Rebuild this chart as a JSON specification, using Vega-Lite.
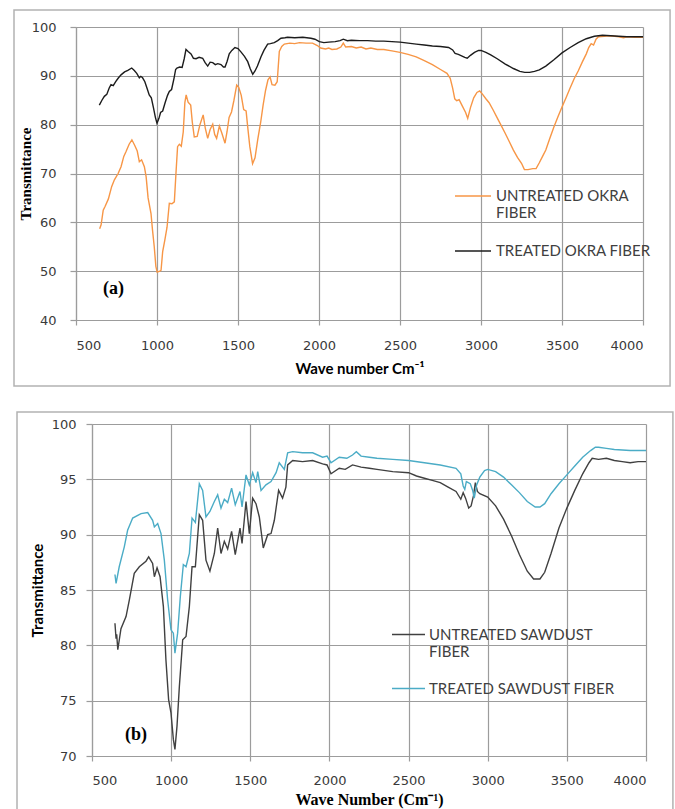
{
  "$schema": "https://vega.github.io/schema/vega-lite/v6.json",
  "padding": {"left": 13, "top": 9, "right": 0, "bottom": 0},
  "background": "white",
  "config": {
    "view": {"stroke": null},
    "axis": {
      "grid": true,
      "gridColor": "#9c9c9c",
      "gridWidth": 1.2,
      "domainColor": "#9c9c9c",
      "domainWidth": 1.2,
      "tickColor": "#9c9c9c",
      "tickWidth": 1.2,
      "labelColor": "#3a3a3a",
      "labelFont": "DejaVu Sans",
      "labelFontSize": 13,
      "format": "d",
      "titleColor": "#000000"
    },
    "legend": {
      "labelFont": "Lato",
      "labelFontSize": 15,
      "labelColor": "#404040",
      "labelLimit": 400,
      "symbolStrokeWidth": 1.6,
      "padding": 0
    }
  },
  "datasets": {
    "okra": [
      {"fiber": "untreated", "wn": 646, "T": 58.7}, {"fiber": "untreated", "wn": 655, "T": 59.5}, {"fiber": "untreated", "wn": 668, "T": 62.5},
      {"fiber": "untreated", "wn": 680, "T": 63.3}, {"fiber": "untreated", "wn": 700, "T": 64.8}, {"fiber": "untreated", "wn": 720, "T": 67.3},
      {"fiber": "untreated", "wn": 737, "T": 68.7}, {"fiber": "untreated", "wn": 760, "T": 70}, {"fiber": "untreated", "wn": 778, "T": 71.4},
      {"fiber": "untreated", "wn": 795, "T": 73.5}, {"fiber": "untreated", "wn": 809, "T": 74.5}, {"fiber": "untreated", "wn": 828, "T": 76},
      {"fiber": "untreated", "wn": 845, "T": 76.9}, {"fiber": "untreated", "wn": 862, "T": 75.8}, {"fiber": "untreated", "wn": 878, "T": 74.6},
      {"fiber": "untreated", "wn": 891, "T": 72.4}, {"fiber": "untreated", "wn": 905, "T": 72.8}, {"fiber": "untreated", "wn": 922, "T": 71.4},
      {"fiber": "untreated", "wn": 933, "T": 69.3}, {"fiber": "untreated", "wn": 945, "T": 65}, {"fiber": "untreated", "wn": 963, "T": 61.8},
      {"fiber": "untreated", "wn": 972, "T": 58.5}, {"fiber": "untreated", "wn": 983, "T": 55}, {"fiber": "untreated", "wn": 993, "T": 51},
      {"fiber": "untreated", "wn": 1001, "T": 49.8}, {"fiber": "untreated", "wn": 1018, "T": 50}, {"fiber": "untreated", "wn": 1025, "T": 50.2},
      {"fiber": "untreated", "wn": 1035, "T": 54}, {"fiber": "untreated", "wn": 1048, "T": 56.3}, {"fiber": "untreated", "wn": 1062, "T": 59},
      {"fiber": "untreated", "wn": 1076, "T": 63.9}, {"fiber": "untreated", "wn": 1092, "T": 63.8}, {"fiber": "untreated", "wn": 1107, "T": 64.2},
      {"fiber": "untreated", "wn": 1117, "T": 70}, {"fiber": "untreated", "wn": 1127, "T": 75.5}, {"fiber": "untreated", "wn": 1138, "T": 76},
      {"fiber": "untreated", "wn": 1150, "T": 75.6}, {"fiber": "untreated", "wn": 1162, "T": 78.5}, {"fiber": "untreated", "wn": 1172, "T": 84.5},
      {"fiber": "untreated", "wn": 1180, "T": 86.1}, {"fiber": "untreated", "wn": 1192, "T": 84.6}, {"fiber": "untreated", "wn": 1208, "T": 84},
      {"fiber": "untreated", "wn": 1218, "T": 80.5}, {"fiber": "untreated", "wn": 1230, "T": 77.5}, {"fiber": "untreated", "wn": 1248, "T": 77.6},
      {"fiber": "untreated", "wn": 1265, "T": 80}, {"fiber": "untreated", "wn": 1285, "T": 82}, {"fiber": "untreated", "wn": 1298, "T": 79.3},
      {"fiber": "untreated", "wn": 1313, "T": 77.2}, {"fiber": "untreated", "wn": 1328, "T": 79}, {"fiber": "untreated", "wn": 1344, "T": 80.1},
      {"fiber": "untreated", "wn": 1356, "T": 78}, {"fiber": "untreated", "wn": 1368, "T": 77.2}, {"fiber": "untreated", "wn": 1385, "T": 79.7},
      {"fiber": "untreated", "wn": 1400, "T": 78.3}, {"fiber": "untreated", "wn": 1420, "T": 76.2}, {"fiber": "untreated", "wn": 1432, "T": 78.5},
      {"fiber": "untreated", "wn": 1445, "T": 81.5}, {"fiber": "untreated", "wn": 1460, "T": 82.6}, {"fiber": "untreated", "wn": 1475, "T": 85},
      {"fiber": "untreated", "wn": 1492, "T": 88.1}, {"fiber": "untreated", "wn": 1505, "T": 87.6}, {"fiber": "untreated", "wn": 1520, "T": 86},
      {"fiber": "untreated", "wn": 1535, "T": 83.1}, {"fiber": "untreated", "wn": 1550, "T": 82.8}, {"fiber": "untreated", "wn": 1560, "T": 79.5},
      {"fiber": "untreated", "wn": 1573, "T": 75.5}, {"fiber": "untreated", "wn": 1590, "T": 72}, {"fiber": "untreated", "wn": 1605, "T": 73.2},
      {"fiber": "untreated", "wn": 1622, "T": 77}, {"fiber": "untreated", "wn": 1640, "T": 80.5}, {"fiber": "untreated", "wn": 1655, "T": 84},
      {"fiber": "untreated", "wn": 1670, "T": 87}, {"fiber": "untreated", "wn": 1685, "T": 89.2}, {"fiber": "untreated", "wn": 1698, "T": 89.8},
      {"fiber": "untreated", "wn": 1710, "T": 88.2}, {"fiber": "untreated", "wn": 1728, "T": 88.1}, {"fiber": "untreated", "wn": 1742, "T": 88.8},
      {"fiber": "untreated", "wn": 1755, "T": 95}, {"fiber": "untreated", "wn": 1770, "T": 96}, {"fiber": "untreated", "wn": 1786, "T": 96.5},
      {"fiber": "untreated", "wn": 1820, "T": 96.7}, {"fiber": "untreated", "wn": 1850, "T": 96.6}, {"fiber": "untreated", "wn": 1880, "T": 96.8},
      {"fiber": "untreated", "wn": 1920, "T": 96.7}, {"fiber": "untreated", "wn": 1960, "T": 96.7}, {"fiber": "untreated", "wn": 1990, "T": 96.2},
      {"fiber": "untreated", "wn": 2010, "T": 95.7}, {"fiber": "untreated", "wn": 2040, "T": 95.5}, {"fiber": "untreated", "wn": 2060, "T": 95.7},
      {"fiber": "untreated", "wn": 2080, "T": 95.4}, {"fiber": "untreated", "wn": 2110, "T": 95.5}, {"fiber": "untreated", "wn": 2135, "T": 95.9},
      {"fiber": "untreated", "wn": 2150, "T": 96.7}, {"fiber": "untreated", "wn": 2165, "T": 95.9}, {"fiber": "untreated", "wn": 2200, "T": 96},
      {"fiber": "untreated", "wn": 2230, "T": 95.7}, {"fiber": "untreated", "wn": 2260, "T": 95.9}, {"fiber": "untreated", "wn": 2290, "T": 95.5},
      {"fiber": "untreated", "wn": 2320, "T": 95.7}, {"fiber": "untreated", "wn": 2360, "T": 95.4}, {"fiber": "untreated", "wn": 2400, "T": 95.4},
      {"fiber": "untreated", "wn": 2450, "T": 95.1}, {"fiber": "untreated", "wn": 2500, "T": 94.8}, {"fiber": "untreated", "wn": 2550, "T": 94.4},
      {"fiber": "untreated", "wn": 2600, "T": 93.9}, {"fiber": "untreated", "wn": 2650, "T": 93.1}, {"fiber": "untreated", "wn": 2700, "T": 92.3},
      {"fiber": "untreated", "wn": 2750, "T": 91.3}, {"fiber": "untreated", "wn": 2790, "T": 90.5}, {"fiber": "untreated", "wn": 2810, "T": 89.5},
      {"fiber": "untreated", "wn": 2825, "T": 87.5}, {"fiber": "untreated", "wn": 2838, "T": 85.3}, {"fiber": "untreated", "wn": 2850, "T": 84.9},
      {"fiber": "untreated", "wn": 2865, "T": 85.1}, {"fiber": "untreated", "wn": 2885, "T": 83.8}, {"fiber": "untreated", "wn": 2905, "T": 82.5},
      {"fiber": "untreated", "wn": 2918, "T": 81.3}, {"fiber": "untreated", "wn": 2935, "T": 83.5}, {"fiber": "untreated", "wn": 2955, "T": 85.5},
      {"fiber": "untreated", "wn": 2975, "T": 86.6}, {"fiber": "untreated", "wn": 2992, "T": 86.9}, {"fiber": "untreated", "wn": 3010, "T": 86.2},
      {"fiber": "untreated", "wn": 3030, "T": 85.3}, {"fiber": "untreated", "wn": 3050, "T": 84.5}, {"fiber": "untreated", "wn": 3075, "T": 83},
      {"fiber": "untreated", "wn": 3100, "T": 81.4}, {"fiber": "untreated", "wn": 3125, "T": 79.8}, {"fiber": "untreated", "wn": 3150, "T": 78.2},
      {"fiber": "untreated", "wn": 3175, "T": 76.5}, {"fiber": "untreated", "wn": 3200, "T": 74.8}, {"fiber": "untreated", "wn": 3225, "T": 73.3},
      {"fiber": "untreated", "wn": 3250, "T": 72.1}, {"fiber": "untreated", "wn": 3268, "T": 70.8}, {"fiber": "untreated", "wn": 3290, "T": 70.8},
      {"fiber": "untreated", "wn": 3320, "T": 71}, {"fiber": "untreated", "wn": 3340, "T": 71}, {"fiber": "untreated", "wn": 3360, "T": 72.2},
      {"fiber": "untreated", "wn": 3380, "T": 73.5}, {"fiber": "untreated", "wn": 3400, "T": 74.8}, {"fiber": "untreated", "wn": 3425, "T": 77.2},
      {"fiber": "untreated", "wn": 3450, "T": 79.5}, {"fiber": "untreated", "wn": 3475, "T": 81.6}, {"fiber": "untreated", "wn": 3500, "T": 83.6},
      {"fiber": "untreated", "wn": 3525, "T": 85.5}, {"fiber": "untreated", "wn": 3550, "T": 87.5}, {"fiber": "untreated", "wn": 3575, "T": 89.4},
      {"fiber": "untreated", "wn": 3600, "T": 91}, {"fiber": "untreated", "wn": 3625, "T": 92.8}, {"fiber": "untreated", "wn": 3650, "T": 94.5},
      {"fiber": "untreated", "wn": 3665, "T": 95.8}, {"fiber": "untreated", "wn": 3680, "T": 96.6}, {"fiber": "untreated", "wn": 3695, "T": 96.3},
      {"fiber": "untreated", "wn": 3710, "T": 97.5}, {"fiber": "untreated", "wn": 3725, "T": 98}, {"fiber": "untreated", "wn": 3760, "T": 98.1},
      {"fiber": "untreated", "wn": 3800, "T": 98.2}, {"fiber": "untreated", "wn": 3850, "T": 98}, {"fiber": "untreated", "wn": 3880, "T": 97.8},
      {"fiber": "untreated", "wn": 3900, "T": 98}, {"fiber": "untreated", "wn": 3950, "T": 97.9}, {"fiber": "untreated", "wn": 4000, "T": 97.9},

      {"fiber": "treated", "wn": 644, "T": 84}, {"fiber": "treated", "wn": 660, "T": 85}, {"fiber": "treated", "wn": 675, "T": 85.8},
      {"fiber": "treated", "wn": 690, "T": 86.2}, {"fiber": "treated", "wn": 705, "T": 87.5}, {"fiber": "treated", "wn": 716, "T": 88.2},
      {"fiber": "treated", "wn": 730, "T": 88}, {"fiber": "treated", "wn": 745, "T": 88.8}, {"fiber": "treated", "wn": 760, "T": 89.5},
      {"fiber": "treated", "wn": 778, "T": 90.2}, {"fiber": "treated", "wn": 800, "T": 90.8}, {"fiber": "treated", "wn": 820, "T": 91.1},
      {"fiber": "treated", "wn": 844, "T": 91.6}, {"fiber": "treated", "wn": 860, "T": 91.1}, {"fiber": "treated", "wn": 875, "T": 90.5},
      {"fiber": "treated", "wn": 891, "T": 89.6}, {"fiber": "treated", "wn": 900, "T": 89.9}, {"fiber": "treated", "wn": 911, "T": 89.6},
      {"fiber": "treated", "wn": 925, "T": 88.8}, {"fiber": "treated", "wn": 940, "T": 87.3}, {"fiber": "treated", "wn": 952, "T": 86.1},
      {"fiber": "treated", "wn": 965, "T": 85.5}, {"fiber": "treated", "wn": 978, "T": 83.5}, {"fiber": "treated", "wn": 990, "T": 81.5},
      {"fiber": "treated", "wn": 1000, "T": 80.3}, {"fiber": "treated", "wn": 1012, "T": 81.3}, {"fiber": "treated", "wn": 1022, "T": 82.5},
      {"fiber": "treated", "wn": 1035, "T": 82.8}, {"fiber": "treated", "wn": 1050, "T": 84.5}, {"fiber": "treated", "wn": 1065, "T": 86},
      {"fiber": "treated", "wn": 1076, "T": 86.8}, {"fiber": "treated", "wn": 1090, "T": 87.2}, {"fiber": "treated", "wn": 1105, "T": 89.5},
      {"fiber": "treated", "wn": 1115, "T": 91.3}, {"fiber": "treated", "wn": 1123, "T": 91.6}, {"fiber": "treated", "wn": 1140, "T": 91.8},
      {"fiber": "treated", "wn": 1155, "T": 91.7}, {"fiber": "treated", "wn": 1168, "T": 93.5}, {"fiber": "treated", "wn": 1179, "T": 95.4},
      {"fiber": "treated", "wn": 1192, "T": 95}, {"fiber": "treated", "wn": 1210, "T": 94.5}, {"fiber": "treated", "wn": 1225, "T": 93.6},
      {"fiber": "treated", "wn": 1241, "T": 93.5}, {"fiber": "treated", "wn": 1260, "T": 93.8}, {"fiber": "treated", "wn": 1282, "T": 93.6},
      {"fiber": "treated", "wn": 1297, "T": 92.7}, {"fiber": "treated", "wn": 1313, "T": 92}, {"fiber": "treated", "wn": 1328, "T": 92.8},
      {"fiber": "treated", "wn": 1344, "T": 92.7}, {"fiber": "treated", "wn": 1360, "T": 92.3}, {"fiber": "treated", "wn": 1375, "T": 92.5},
      {"fiber": "treated", "wn": 1395, "T": 92.3}, {"fiber": "treated", "wn": 1410, "T": 91.8}, {"fiber": "treated", "wn": 1420, "T": 91.8},
      {"fiber": "treated", "wn": 1433, "T": 93}, {"fiber": "treated", "wn": 1446, "T": 94.5}, {"fiber": "treated", "wn": 1462, "T": 95.2},
      {"fiber": "treated", "wn": 1481, "T": 95.8}, {"fiber": "treated", "wn": 1500, "T": 95.6}, {"fiber": "treated", "wn": 1518, "T": 94.9},
      {"fiber": "treated", "wn": 1540, "T": 94}, {"fiber": "treated", "wn": 1560, "T": 92.9}, {"fiber": "treated", "wn": 1575, "T": 91.5},
      {"fiber": "treated", "wn": 1591, "T": 90.3}, {"fiber": "treated", "wn": 1605, "T": 91}, {"fiber": "treated", "wn": 1620, "T": 92},
      {"fiber": "treated", "wn": 1642, "T": 93.9}, {"fiber": "treated", "wn": 1660, "T": 95.2}, {"fiber": "treated", "wn": 1683, "T": 96.5},
      {"fiber": "treated", "wn": 1700, "T": 96.6}, {"fiber": "treated", "wn": 1724, "T": 96.8}, {"fiber": "treated", "wn": 1745, "T": 97.2},
      {"fiber": "treated", "wn": 1765, "T": 97.7}, {"fiber": "treated", "wn": 1790, "T": 97.8}, {"fiber": "treated", "wn": 1806, "T": 97.9},
      {"fiber": "treated", "wn": 1850, "T": 97.8}, {"fiber": "treated", "wn": 1900, "T": 97.9}, {"fiber": "treated", "wn": 1950, "T": 97.7},
      {"fiber": "treated", "wn": 1975, "T": 97.5}, {"fiber": "treated", "wn": 2002, "T": 97}, {"fiber": "treated", "wn": 2030, "T": 96.8},
      {"fiber": "treated", "wn": 2060, "T": 96.9}, {"fiber": "treated", "wn": 2100, "T": 97}, {"fiber": "treated", "wn": 2130, "T": 97.2},
      {"fiber": "treated", "wn": 2150, "T": 97.5}, {"fiber": "treated", "wn": 2175, "T": 97.2}, {"fiber": "treated", "wn": 2200, "T": 97.3},
      {"fiber": "treated", "wn": 2250, "T": 97.2}, {"fiber": "treated", "wn": 2300, "T": 97.2}, {"fiber": "treated", "wn": 2350, "T": 97.1},
      {"fiber": "treated", "wn": 2400, "T": 97.1}, {"fiber": "treated", "wn": 2450, "T": 97}, {"fiber": "treated", "wn": 2500, "T": 96.9},
      {"fiber": "treated", "wn": 2550, "T": 96.7}, {"fiber": "treated", "wn": 2600, "T": 96.5}, {"fiber": "treated", "wn": 2650, "T": 96.3},
      {"fiber": "treated", "wn": 2700, "T": 96.1}, {"fiber": "treated", "wn": 2750, "T": 96}, {"fiber": "treated", "wn": 2800, "T": 95.8},
      {"fiber": "treated", "wn": 2825, "T": 95.3}, {"fiber": "treated", "wn": 2840, "T": 94.6}, {"fiber": "treated", "wn": 2860, "T": 94.4},
      {"fiber": "treated", "wn": 2880, "T": 94.1}, {"fiber": "treated", "wn": 2900, "T": 93.8}, {"fiber": "treated", "wn": 2915, "T": 93.6},
      {"fiber": "treated", "wn": 2935, "T": 94.2}, {"fiber": "treated", "wn": 2960, "T": 94.8}, {"fiber": "treated", "wn": 2985, "T": 95.2},
      {"fiber": "treated", "wn": 3000, "T": 95.2}, {"fiber": "treated", "wn": 3030, "T": 94.8}, {"fiber": "treated", "wn": 3060, "T": 94.3},
      {"fiber": "treated", "wn": 3100, "T": 93.5}, {"fiber": "treated", "wn": 3150, "T": 92.4}, {"fiber": "treated", "wn": 3200, "T": 91.5},
      {"fiber": "treated", "wn": 3240, "T": 90.9}, {"fiber": "treated", "wn": 3270, "T": 90.7}, {"fiber": "treated", "wn": 3300, "T": 90.7},
      {"fiber": "treated", "wn": 3330, "T": 90.9}, {"fiber": "treated", "wn": 3360, "T": 91.2}, {"fiber": "treated", "wn": 3400, "T": 92},
      {"fiber": "treated", "wn": 3450, "T": 93.3}, {"fiber": "treated", "wn": 3500, "T": 94.7}, {"fiber": "treated", "wn": 3550, "T": 95.8},
      {"fiber": "treated", "wn": 3600, "T": 96.8}, {"fiber": "treated", "wn": 3650, "T": 97.6}, {"fiber": "treated", "wn": 3700, "T": 98.1},
      {"fiber": "treated", "wn": 3750, "T": 98.3}, {"fiber": "treated", "wn": 3800, "T": 98.2}, {"fiber": "treated", "wn": 3850, "T": 98.1},
      {"fiber": "treated", "wn": 3900, "T": 98}, {"fiber": "treated", "wn": 3950, "T": 98}, {"fiber": "treated", "wn": 4000, "T": 98}
    ],
    "sawdust": [
      {"fiber": "untreated", "wn": 645, "T": 82}, {"fiber": "untreated", "wn": 652, "T": 80.6}, {"fiber": "untreated", "wn": 656, "T": 81},
      {"fiber": "untreated", "wn": 663, "T": 79.6}, {"fiber": "untreated", "wn": 683, "T": 81.5}, {"fiber": "untreated", "wn": 715, "T": 82.6},
      {"fiber": "untreated", "wn": 736, "T": 84.1}, {"fiber": "untreated", "wn": 767, "T": 86.5}, {"fiber": "untreated", "wn": 799, "T": 87.1},
      {"fiber": "untreated", "wn": 841, "T": 87.6}, {"fiber": "untreated", "wn": 858, "T": 88}, {"fiber": "untreated", "wn": 883, "T": 87.4},
      {"fiber": "untreated", "wn": 894, "T": 86.2}, {"fiber": "untreated", "wn": 911, "T": 87}, {"fiber": "untreated", "wn": 930, "T": 86.2},
      {"fiber": "untreated", "wn": 951, "T": 83.5}, {"fiber": "untreated", "wn": 967, "T": 78.7}, {"fiber": "untreated", "wn": 984, "T": 75.1},
      {"fiber": "untreated", "wn": 999, "T": 73.9}, {"fiber": "untreated", "wn": 1014, "T": 71.5}, {"fiber": "untreated", "wn": 1024, "T": 70.6},
      {"fiber": "untreated", "wn": 1037, "T": 72.7}, {"fiber": "untreated", "wn": 1052, "T": 76.3}, {"fiber": "untreated", "wn": 1073, "T": 80.5},
      {"fiber": "untreated", "wn": 1094, "T": 80.8}, {"fiber": "untreated", "wn": 1115, "T": 83.5}, {"fiber": "untreated", "wn": 1132, "T": 87.1},
      {"fiber": "untreated", "wn": 1153, "T": 87.1}, {"fiber": "untreated", "wn": 1178, "T": 91.8}, {"fiber": "untreated", "wn": 1199, "T": 91.3},
      {"fiber": "untreated", "wn": 1220, "T": 87.7}, {"fiber": "untreated", "wn": 1245, "T": 86.7}, {"fiber": "untreated", "wn": 1273, "T": 88.3},
      {"fiber": "untreated", "wn": 1294, "T": 90.6}, {"fiber": "untreated", "wn": 1315, "T": 88.3}, {"fiber": "untreated", "wn": 1336, "T": 89.4},
      {"fiber": "untreated", "wn": 1357, "T": 88.7}, {"fiber": "untreated", "wn": 1382, "T": 90.3}, {"fiber": "untreated", "wn": 1405, "T": 88.2},
      {"fiber": "untreated", "wn": 1435, "T": 90.6}, {"fiber": "untreated", "wn": 1448, "T": 89.2}, {"fiber": "untreated", "wn": 1473, "T": 93},
      {"fiber": "untreated", "wn": 1494, "T": 90.1}, {"fiber": "untreated", "wn": 1515, "T": 93.3}, {"fiber": "untreated", "wn": 1536, "T": 92.8},
      {"fiber": "untreated", "wn": 1557, "T": 91.6}, {"fiber": "untreated", "wn": 1582, "T": 88.8}, {"fiber": "untreated", "wn": 1610, "T": 90},
      {"fiber": "untreated", "wn": 1631, "T": 90.1}, {"fiber": "untreated", "wn": 1652, "T": 91.3}, {"fiber": "untreated", "wn": 1679, "T": 94},
      {"fiber": "untreated", "wn": 1704, "T": 93.3}, {"fiber": "untreated", "wn": 1725, "T": 94.3}, {"fiber": "untreated", "wn": 1736, "T": 96.3},
      {"fiber": "untreated", "wn": 1768, "T": 96.7}, {"fiber": "untreated", "wn": 1830, "T": 96.6}, {"fiber": "untreated", "wn": 1894, "T": 96.7},
      {"fiber": "untreated", "wn": 1957, "T": 96.4}, {"fiber": "untreated", "wn": 1985, "T": 96.3}, {"fiber": "untreated", "wn": 2010, "T": 95.5},
      {"fiber": "untreated", "wn": 2062, "T": 96}, {"fiber": "untreated", "wn": 2100, "T": 95.9}, {"fiber": "untreated", "wn": 2146, "T": 96.3},
      {"fiber": "untreated", "wn": 2200, "T": 96.1}, {"fiber": "untreated", "wn": 2252, "T": 96}, {"fiber": "untreated", "wn": 2300, "T": 95.9},
      {"fiber": "untreated", "wn": 2400, "T": 95.7}, {"fiber": "untreated", "wn": 2500, "T": 95.6}, {"fiber": "untreated", "wn": 2550, "T": 95.3},
      {"fiber": "untreated", "wn": 2600, "T": 95.1}, {"fiber": "untreated", "wn": 2650, "T": 94.9}, {"fiber": "untreated", "wn": 2700, "T": 94.7},
      {"fiber": "untreated", "wn": 2750, "T": 94.3}, {"fiber": "untreated", "wn": 2800, "T": 93.9}, {"fiber": "untreated", "wn": 2830, "T": 93.2},
      {"fiber": "untreated", "wn": 2845, "T": 93.8}, {"fiber": "untreated", "wn": 2860, "T": 93.3}, {"fiber": "untreated", "wn": 2880, "T": 92.4},
      {"fiber": "untreated", "wn": 2895, "T": 92.6}, {"fiber": "untreated", "wn": 2910, "T": 93.5}, {"fiber": "untreated", "wn": 2922, "T": 94.7},
      {"fiber": "untreated", "wn": 2935, "T": 93.9}, {"fiber": "untreated", "wn": 2950, "T": 93.7}, {"fiber": "untreated", "wn": 3000, "T": 93.4},
      {"fiber": "untreated", "wn": 3050, "T": 92.6}, {"fiber": "untreated", "wn": 3100, "T": 91.4}, {"fiber": "untreated", "wn": 3150, "T": 89.9},
      {"fiber": "untreated", "wn": 3200, "T": 88.2}, {"fiber": "untreated", "wn": 3250, "T": 86.7}, {"fiber": "untreated", "wn": 3290, "T": 86},
      {"fiber": "untreated", "wn": 3330, "T": 86}, {"fiber": "untreated", "wn": 3360, "T": 86.6}, {"fiber": "untreated", "wn": 3400, "T": 88.3},
      {"fiber": "untreated", "wn": 3450, "T": 90.6}, {"fiber": "untreated", "wn": 3500, "T": 92.4}, {"fiber": "untreated", "wn": 3550, "T": 94},
      {"fiber": "untreated", "wn": 3600, "T": 95.5}, {"fiber": "untreated", "wn": 3640, "T": 96.5}, {"fiber": "untreated", "wn": 3660, "T": 96.9},
      {"fiber": "untreated", "wn": 3700, "T": 96.8}, {"fiber": "untreated", "wn": 3750, "T": 96.9}, {"fiber": "untreated", "wn": 3800, "T": 96.7},
      {"fiber": "untreated", "wn": 3850, "T": 96.6}, {"fiber": "untreated", "wn": 3900, "T": 96.5}, {"fiber": "untreated", "wn": 3950, "T": 96.6},
      {"fiber": "untreated", "wn": 4000, "T": 96.6},

      {"fiber": "treated", "wn": 645, "T": 86.4}, {"fiber": "treated", "wn": 652, "T": 85.6}, {"fiber": "treated", "wn": 672, "T": 87.1},
      {"fiber": "treated", "wn": 704, "T": 88.9}, {"fiber": "treated", "wn": 725, "T": 90.4}, {"fiber": "treated", "wn": 757, "T": 91.5},
      {"fiber": "treated", "wn": 810, "T": 91.9}, {"fiber": "treated", "wn": 852, "T": 92}, {"fiber": "treated", "wn": 883, "T": 91.3},
      {"fiber": "treated", "wn": 894, "T": 90.7}, {"fiber": "treated", "wn": 915, "T": 91}, {"fiber": "treated", "wn": 936, "T": 90.1},
      {"fiber": "treated", "wn": 957, "T": 87.7}, {"fiber": "treated", "wn": 978, "T": 84.1}, {"fiber": "treated", "wn": 999, "T": 81.4},
      {"fiber": "treated", "wn": 1014, "T": 81.1}, {"fiber": "treated", "wn": 1024, "T": 79.3}, {"fiber": "treated", "wn": 1041, "T": 81.1},
      {"fiber": "treated", "wn": 1058, "T": 84.4}, {"fiber": "treated", "wn": 1077, "T": 87.3}, {"fiber": "treated", "wn": 1094, "T": 87.1},
      {"fiber": "treated", "wn": 1115, "T": 88.3}, {"fiber": "treated", "wn": 1132, "T": 91.5}, {"fiber": "treated", "wn": 1153, "T": 91.1},
      {"fiber": "treated", "wn": 1178, "T": 94.6}, {"fiber": "treated", "wn": 1199, "T": 94}, {"fiber": "treated", "wn": 1220, "T": 91.6},
      {"fiber": "treated", "wn": 1245, "T": 92.1}, {"fiber": "treated", "wn": 1273, "T": 93}, {"fiber": "treated", "wn": 1294, "T": 93.6},
      {"fiber": "treated", "wn": 1315, "T": 92.4}, {"fiber": "treated", "wn": 1336, "T": 93.2}, {"fiber": "treated", "wn": 1357, "T": 92.9},
      {"fiber": "treated", "wn": 1382, "T": 94.2}, {"fiber": "treated", "wn": 1405, "T": 92.7}, {"fiber": "treated", "wn": 1435, "T": 93.9},
      {"fiber": "treated", "wn": 1448, "T": 92.5}, {"fiber": "treated", "wn": 1473, "T": 95.4}, {"fiber": "treated", "wn": 1494, "T": 94.5},
      {"fiber": "treated", "wn": 1515, "T": 95.6}, {"fiber": "treated", "wn": 1536, "T": 94.7}, {"fiber": "treated", "wn": 1547, "T": 95.7},
      {"fiber": "treated", "wn": 1568, "T": 94}, {"fiber": "treated", "wn": 1599, "T": 94.5}, {"fiber": "treated", "wn": 1631, "T": 94.8},
      {"fiber": "treated", "wn": 1663, "T": 95.6}, {"fiber": "treated", "wn": 1683, "T": 96.5}, {"fiber": "treated", "wn": 1715, "T": 95.9},
      {"fiber": "treated", "wn": 1736, "T": 97.4}, {"fiber": "treated", "wn": 1768, "T": 97.5}, {"fiber": "treated", "wn": 1830, "T": 97.4},
      {"fiber": "treated", "wn": 1894, "T": 97.4}, {"fiber": "treated", "wn": 1957, "T": 97}, {"fiber": "treated", "wn": 1985, "T": 97.1},
      {"fiber": "treated", "wn": 2010, "T": 96.5}, {"fiber": "treated", "wn": 2062, "T": 97}, {"fiber": "treated", "wn": 2110, "T": 96.9},
      {"fiber": "treated", "wn": 2146, "T": 97.2}, {"fiber": "treated", "wn": 2170, "T": 97.5}, {"fiber": "treated", "wn": 2200, "T": 97.1},
      {"fiber": "treated", "wn": 2252, "T": 97}, {"fiber": "treated", "wn": 2300, "T": 96.9}, {"fiber": "treated", "wn": 2400, "T": 96.8},
      {"fiber": "treated", "wn": 2500, "T": 96.7}, {"fiber": "treated", "wn": 2600, "T": 96.5}, {"fiber": "treated", "wn": 2700, "T": 96.3},
      {"fiber": "treated", "wn": 2800, "T": 96}, {"fiber": "treated", "wn": 2830, "T": 95.5}, {"fiber": "treated", "wn": 2845, "T": 94.4},
      {"fiber": "treated", "wn": 2855, "T": 94.1}, {"fiber": "treated", "wn": 2865, "T": 94.8}, {"fiber": "treated", "wn": 2890, "T": 94.6},
      {"fiber": "treated", "wn": 2905, "T": 94}, {"fiber": "treated", "wn": 2915, "T": 93.3}, {"fiber": "treated", "wn": 2930, "T": 94.5},
      {"fiber": "treated", "wn": 2950, "T": 95.2}, {"fiber": "treated", "wn": 2980, "T": 95.8}, {"fiber": "treated", "wn": 3000, "T": 95.9},
      {"fiber": "treated", "wn": 3050, "T": 95.7}, {"fiber": "treated", "wn": 3100, "T": 95.2}, {"fiber": "treated", "wn": 3150, "T": 94.5},
      {"fiber": "treated", "wn": 3200, "T": 93.8}, {"fiber": "treated", "wn": 3250, "T": 93}, {"fiber": "treated", "wn": 3300, "T": 92.5},
      {"fiber": "treated", "wn": 3330, "T": 92.5}, {"fiber": "treated", "wn": 3360, "T": 92.8}, {"fiber": "treated", "wn": 3400, "T": 93.7},
      {"fiber": "treated", "wn": 3450, "T": 94.6}, {"fiber": "treated", "wn": 3500, "T": 95.4}, {"fiber": "treated", "wn": 3550, "T": 96.2},
      {"fiber": "treated", "wn": 3600, "T": 97}, {"fiber": "treated", "wn": 3650, "T": 97.6}, {"fiber": "treated", "wn": 3680, "T": 97.9},
      {"fiber": "treated", "wn": 3700, "T": 97.9}, {"fiber": "treated", "wn": 3750, "T": 97.8}, {"fiber": "treated", "wn": 3800, "T": 97.7},
      {"fiber": "treated", "wn": 3900, "T": 97.6}, {"fiber": "treated", "wn": 4000, "T": 97.6}
    ]
  },
  "vconcat": [
    {
      "width": 567,
      "height": 293,
      "layer": [
        {
          "data": {"values": [{}]},
          "mark": {"type": "rect", "filled": false, "color": "#b2b2b2", "strokeWidth": 1.5},
          "encoding": {
            "x": {"datum": 117.3, "type": "quantitative"},
            "x2": {"datum": 4167},
            "y": {"datum": 103.5, "type": "quantitative"},
            "y2": {"datum": 26.5}
          }
        },
        {
          "data": {"name": "okra"},
          "mark": {"type": "line", "strokeWidth": 1.4},
          "encoding": {
            "x": {
              "field": "wn", "type": "quantitative",
              "scale": {"domain": [500, 4000], "nice": false, "zero": false},
              "axis": {
                "values": [500, 1000, 1500, 2000, 2500, 3000, 3500, 4000],
                "tickSize": 5, "labelPadding": 14,
                "title": "Wave number Cm⁻¹",
                "titleFont": "Lato", "titleFontSize": 15, "titleFontWeight": "bold", "titlePadding": 9
              }
            },
            "y": {
              "field": "T", "type": "quantitative",
              "scale": {"domain": [40, 100], "nice": false, "zero": false},
              "axis": {
                "values": [40, 50, 60, 70, 80, 90, 100],
                "tickSize": 6, "labelPadding": 14,
                "title": "Transmittance",
                "titleFont": "Liberation Serif", "titleFontSize": 15, "titleFontWeight": "bold", "titlePadding": -2
              }
            },
            "color": {
              "field": "fiber", "type": "nominal",
              "scale": {"domain": ["untreated", "treated"], "range": ["#F79646", "#1c1c1c"]},
              "legend": {
                "orient": "none", "legendX": 378, "legendY": 150,
                "title": null, "symbolType": "stroke", "symbolSize": 1296, "labelOffset": 4,
                "rowPadding": 11,
                "labelExpr": "datum.value == 'untreated' ? ['UNTREATED OKRA', 'FIBER'] : 'TREATED OKRA FIBER'"
              }
            },
            "order": {"field": "wn", "type": "quantitative"}
          }
        },
        {
          "data": {"values": [{}]},
          "mark": {"type": "text", "font": "Liberation Serif", "fontWeight": "bold", "fontSize": 18, "align": "center", "baseline": "middle", "color": "#000000"},
          "encoding": {
            "x": {"datum": 731, "type": "quantitative"},
            "y": {"datum": 46.4, "type": "quantitative"},
            "text": {"value": "(a)"}
          }
        }
      ]
    },
    {
      "width": 570,
      "height": 332,
      "layer": [
        {
          "data": {"values": [{}]},
          "mark": {"type": "rect", "filled": false, "color": "#b2b2b2", "strokeWidth": 1.5},
          "encoding": {
            "x": {"datum": 26.2, "type": "quantitative"},
            "x2": {"datum": 4170},
            "y": {"datum": 101.08, "type": "quantitative"},
            "y2": {"datum": 64.6}
          }
        },
        {
          "data": {"name": "sawdust"},
          "mark": {"type": "line", "strokeWidth": 1.4},
          "encoding": {
            "x": {
              "field": "wn", "type": "quantitative",
              "scale": {"domain": [500, 4000], "range": [16, 570], "nice": false, "zero": false},
              "axis": {
                "values": [500, 1000, 1500, 2000, 2500, 3000, 3500, 4000],
                "tickSize": 5, "labelPadding": 13,
                "title": "Wave Number (Cm⁻¹)",
                "titleFont": "Liberation Serif", "titleFontSize": 16, "titleFontWeight": "bold", "titlePadding": 4
              }
            },
            "y": {
              "field": "T", "type": "quantitative",
              "scale": {"domain": [70, 100], "nice": false, "zero": false},
              "axis": {
                "values": [70, 75, 80, 85, 90, 95, 100],
                "offset": -16,
                "tickSize": 6, "labelPadding": 10,
                "title": "Transmittance",
                "titleFont": "Lato", "titleFontSize": 15, "titleFontWeight": "bold", "titlePadding": 6
              }
            },
            "color": {
              "field": "fiber", "type": "nominal",
              "scale": {"domain": ["untreated", "treated"], "range": ["#404040", "#4BACC6"]},
              "legend": {
                "orient": "none", "legendX": 315, "legendY": 193,
                "title": null, "symbolType": "stroke", "symbolSize": 1089, "labelOffset": 3,
                "rowPadding": 11,
                "labelExpr": "datum.value == 'untreated' ? ['UNTREATED SAWDUST', 'FIBER'] : 'TREATED SAWDUST FIBER'"
              }
            },
            "order": {"field": "wn", "type": "quantitative"}
          }
        },
        {
          "data": {"values": [{}]},
          "mark": {"type": "text", "font": "Liberation Serif", "fontWeight": "bold", "fontSize": 18, "align": "center", "baseline": "middle", "color": "#000000"},
          "encoding": {
            "x": {"datum": 778, "type": "quantitative"},
            "y": {"datum": 71.86, "type": "quantitative"},
            "text": {"value": "(b)"}
          }
        }
      ]
    }
  ],
  "spacing": 24,
  "resolve": {"scale": {"color": "independent", "x": "independent", "y": "independent"}, "legend": {"color": "independent"}}
}
